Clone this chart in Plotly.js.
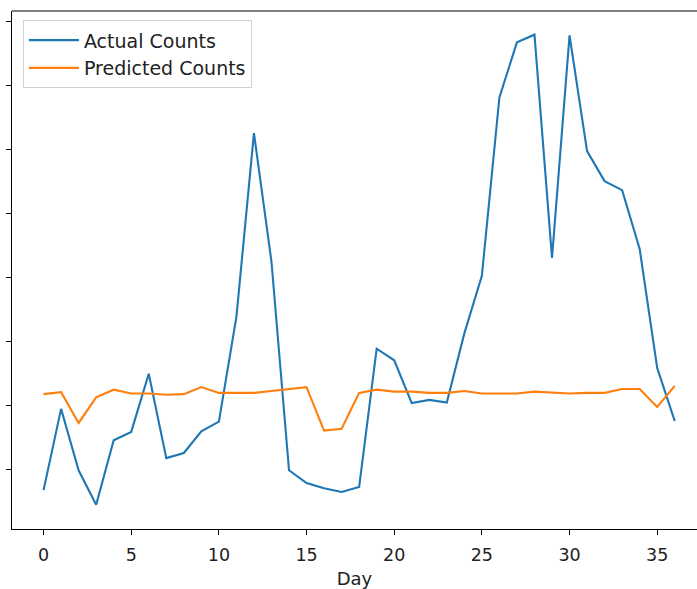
<!DOCTYPE html>
<html>
<head>
<meta charset="utf-8">
<script src="https://cdn.plot.ly/plotly-3.0.1.min.js"></script>
<style>html,body{margin:0;padding:0;background:#fff;}#chart{width:697px;height:589px;}</style>
</head>
<body>
<div id="chart"></div>
<script>
const days = Array.from({length: 37}, (_, i) => i);
const actualCounts = [6.7, 19.4, 9.8, 4.4, 14.5, 15.8, 24.9, 11.7, 12.5, 15.9, 17.4, 33.8, 62.5, 42.4, 9.8, 7.8, 7.0, 6.4, 7.2, 28.8, 27.0, 20.3, 20.8, 20.4, 31.2, 40.2, 68.1, 76.7, 77.9, 43.0, 77.8, 59.7, 55.0, 53.6, 44.4, 25.8, 17.5];
const predictedCounts = [21.7, 22.0, 17.2, 21.2, 22.4, 21.8, 21.8, 21.6, 21.7, 22.8, 21.9, 21.9, 21.9, 22.2, 22.5, 22.8, 16.0, 16.3, 21.9, 22.4, 22.1, 22.1, 21.9, 21.9, 22.2, 21.8, 21.8, 21.8, 22.1, 21.9, 21.8, 21.9, 21.9, 22.5, 22.5, 19.7, 23.0];
const xTicks = [0, 5, 10, 15, 20, 25, 30, 35];
const yTicks = [10, 20, 30, 40, 50, 60, 70, 80];
const seriesNames = ['Actual Counts', 'Predicted Counts'];

const font = 'DejaVu Sans, sans-serif';
const traces = [
  {x: days, y: actualCounts, name: seriesNames[0], type: 'scatter', mode: 'lines',
   line: {color: '#1f77b4', width: 2.1}, legendgroup: 'a'},
  {x: days, y: predictedCounts, name: seriesNames[1], type: 'scatter', mode: 'lines',
   line: {color: '#ff7f0e', width: 2.1}, legendgroup: 'b'}
];
const layout = {
  width: 697, height: 589,
  margin: {l: 12, r: 0, t: 11, b: 60},
  paper_bgcolor: '#fff', plot_bgcolor: '#fff',
  font: {family: font, size: 17.5, color: '#000'},
  showlegend: true,
  legend: {x: 0.016, y: 0.982, xanchor: 'left', yanchor: 'top',
    bgcolor: 'rgba(255,255,255,0.8)', bordercolor: '#d0d0d0', borderwidth: 1,
    font: {family: font, size: 19, color: '#222'},
    traceorder: 'grouped', tracegroupgap: 0, itemwidth: 50},
  xaxis: {range: [-1.8, 37.27], tickvals: xTicks, ticktext: xTicks.map(String),
    showgrid: false, zeroline: false, showline: true, linecolor: '#000', linewidth: 1,
    ticks: 'outside', ticklen: 5, tickwidth: 1, tickcolor: '#000',
    ticklabelstandoff: 5,
    tickfont: {family: font, size: 17.5, color: '#222'},
    automargin: false,
    title: {text: 'Day', font: {family: font, size: 18, color: '#222'}, standoff: 11}},
  yaxis: {range: [0.62, 81.6], tickvals: yTicks, showticklabels: false,
    showgrid: false, zeroline: false, showline: true, linecolor: '#000', linewidth: 1,
    ticks: 'outside', ticklen: 5, tickwidth: 1, tickcolor: '#000'},
  shapes: [{type: 'line', xref: 'paper', yref: 'paper', x0: 0, x1: 1, y0: 1, y1: 1,
    line: {color: '#000', width: 1}}]
};
Plotly.newPlot('chart', traces, layout, {displayModeBar: false, staticPlot: true});
</script>
</body>
</html>
